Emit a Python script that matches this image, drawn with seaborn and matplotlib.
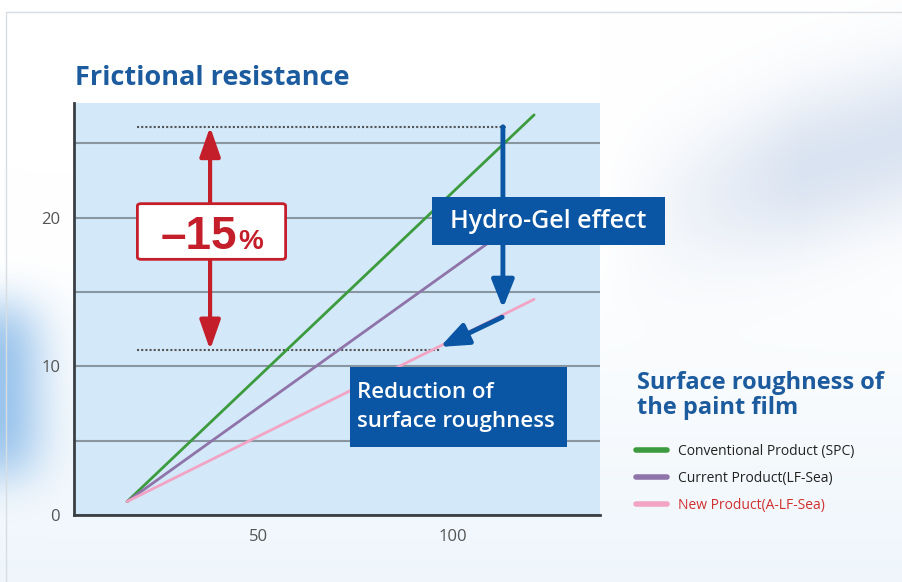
import numpy as np
import pandas as pd
import seaborn as sns
import matplotlib.pyplot as plt
from matplotlib.patches import Rectangle, FancyBboxPatch
from matplotlib.lines import Line2D

# data
roughness = [16.4, 120.8]
conventional = [0.9, 26.9]
current = [0.9, 20.5]
new = [0.9, 14.5]
labels = ['Conventional Product (SPC)', 'Current Product(LF-Sea)', 'New Product(A-LF-Sea)']
colors = ['#3c9b3e', '#8f74aa', '#f2a4c4']

top_level = 26.1      # dotted line, conventional
bottom_level = 11.1   # dotted line, new product

df = pd.DataFrame({
    'roughness': roughness * 3,
    'resistance': conventional + current + new,
    'product': [labels[0]] * 2 + [labels[1]] * 2 + [labels[2]] * 2,
})

W, H = 903, 582
def fx(x):
    return x / W
def fy(y):
    return 1 - y / H

sns.set_style('white')
plt.rcParams['font.family'] = ['Open Sans', 'DejaVu Sans']

fig = plt.figure(figsize=(9.03, 5.82), dpi=100)

# background gradient
bg = fig.add_axes([0, 0, 1, 1], zorder=-1)
yy, xx = np.mgrid[0:H, 0:W]
img = np.ones((H, W, 3))
def tint(img, w, col):
    w = np.clip(w, 0, 1)[..., None]
    return img * (1 - w) + np.array(col) * w
img = tint(img, np.clip((yy - 250) / 330, 0, 1) * 0.45, (0.86, 0.92, 0.97))
img = tint(img, np.exp(-(xx / 45) ** 2) * np.exp(-((yy - 390) / 90) ** 4) * 0.8, (0.52, 0.72, 0.91))
img = tint(img, np.clip((xx - 600) / 200, 0, 1) * np.exp(-((yy - 230 + (xx - 600) * 0.3) / 80) ** 2) * 0.6, (0.76, 0.82, 0.91))
bg.imshow(img, aspect='auto', extent=[0, 1, 0, 1])
bg.axis('off')
fig.add_artist(Line2D([fx(6), fx(903)], [fy(12), fy(12)], color='#d8dde2', lw=1))
fig.add_artist(Line2D([fx(6), fx(6)], [fy(12), fy(582)], color='#d8dde2', lw=1))

ax = fig.add_axes([fx(74), fy(515), fx(600) - fx(74), fy(103) - fy(515)])
ax.set_facecolor('#d3e8f8')

sns.lineplot(data=df, x='roughness', y='resistance', hue='product',
             palette=dict(zip(labels, colors)), linewidth=2, legend=False, ax=ax, zorder=3)

ax.set_xlim(2.8, 137.7)
ax.set_ylim(0, 27.7)
ax.set_xticks([50, 100])
ax.set_yticks([0, 5, 10, 15, 20, 25])
ax.set_yticklabels(['0', '', '10', '', '20', ''])
ax.grid(axis='y', color='#8796a0', lw=1.5)
ax.set_axisbelow(True)
ax.set_xlabel('')
ax.set_ylabel('')
for s in ['top', 'right']:
    ax.spines[s].set_visible(False)
for s in ['left', 'bottom']:
    ax.spines[s].set_color('#3a3f44')
    ax.spines[s].set_linewidth(2)
ax.tick_params(axis='x', direction='in', length=7, width=1, color='#8796a0',
               labelsize=12, labelcolor='#555555', pad=10)
ax.tick_params(axis='y', length=0, labelsize=12, labelcolor='#555555', pad=10)

# dotted reference levels
dot = (0, (1, 1))
ax.hlines(top_level, 19, 113.8, colors='#555555', linestyles=[dot], lw=1.5, zorder=2)
ax.hlines(bottom_level, 19, 96.7, colors='#555555', linestyles=[dot], lw=1.5, zorder=2)

# red double arrow -15%
red = '#c41e2a'
ax.annotate('', xy=(37.7, top_level), xytext=(37.7, bottom_level),
            arrowprops=dict(arrowstyle='<|-|>,head_width=0.35,head_length=1.0', lw=3,
                            color=red, shrinkA=0, shrinkB=0, mutation_scale=18), zorder=4)
ax.add_patch(FancyBboxPatch((fx(141), fy(257)), fx(282) - fx(141), fy(206) - fy(257),
                            boxstyle='round,pad=0.004', transform=fig.transFigure,
                            facecolor='white', edgecolor=red, lw=2, zorder=5, clip_on=False))
ax.text(fx(237), fy(249), '\u201315', transform=fig.transFigure, ha='right', va='baseline',
        fontsize=33, weight='bold', color=red, family=['Liberation Sans', 'DejaVu Sans'],
        zorder=6, clip_on=False)
ax.text(fx(238), fy(249), '%', transform=fig.transFigure, ha='left', va='baseline',
        fontsize=20, weight='bold', color=red, family=['Liberation Sans', 'DejaVu Sans'],
        zorder=6, clip_on=False)

# blue arrows (Hydro-Gel effect)
blue = '#0b56a4'
ax.annotate('', xy=(112.8, 13.9), xytext=(112.8, top_level),
            arrowprops=dict(arrowstyle='-|>,head_width=0.4,head_length=1.0', lw=3.5,
                            color=blue, shrinkA=0, shrinkB=0, mutation_scale=17), zorder=4)
ax.annotate('', xy=(96.7, 11.3), xytext=(112.6, 13.3),
            arrowprops=dict(arrowstyle='-|>,head_width=0.4,head_length=1.0', lw=3.5,
                            color=blue, shrinkA=0, shrinkB=0, mutation_scale=17), zorder=4)

ax.add_patch(Rectangle((fx(432), fy(245)), fx(665) - fx(432), fy(197) - fy(245),
                       transform=fig.transFigure, facecolor=blue, edgecolor='none',
                       zorder=5, clip_on=False))
ax.text(fx(548), fy(222), 'Hydro-Gel effect', transform=fig.transFigure, ha='center',
        va='center', fontsize=18, weight='semibold', color='white', zorder=6, clip_on=False)

ax.add_patch(Rectangle((fx(350), fy(447)), fx(567) - fx(350), fy(367) - fy(447),
                       transform=fig.transFigure, facecolor=blue, edgecolor='none',
                       zorder=5, clip_on=False))
ax.text(fx(357), fy(393), 'Reduction of', transform=fig.transFigure, ha='left',
        va='center', fontsize=16, weight='semibold', color='white', zorder=6, clip_on=False)
ax.text(fx(357), fy(422), 'surface roughness', transform=fig.transFigure, ha='left',
        va='center', fontsize=16, weight='semibold', color='white', zorder=6, clip_on=False)

# titles
title_blue = '#1d5b9f'
fig.text(fx(75), fy(78), 'Frictional resistance', ha='left', va='center',
         fontsize=19.5, weight='bold', color=title_blue)
fig.text(fx(637), fy(383), 'Surface roughness of', ha='left', va='center',
         fontsize=17, weight='bold', color=title_blue)
fig.text(fx(637), fy(408), 'the paint film', ha='left', va='center',
         fontsize=17, weight='bold', color=title_blue)

# legend
handles = [Line2D([], [], color=c, lw=4) for c in colors]
leg = fig.legend(handles, labels, loc='upper left', bbox_to_anchor=(fx(636), fy(444)),
                 frameon=False, handlelength=2.2, handletextpad=0.8,
                 labelspacing=0.85, borderpad=0, borderaxespad=0,
                 prop={'size': 10})
for t in leg.get_texts():
    t.set_color('#222222')
leg.get_texts()[2].set_color('#d0302f')

fig.savefig('out.png', dpi=100)
